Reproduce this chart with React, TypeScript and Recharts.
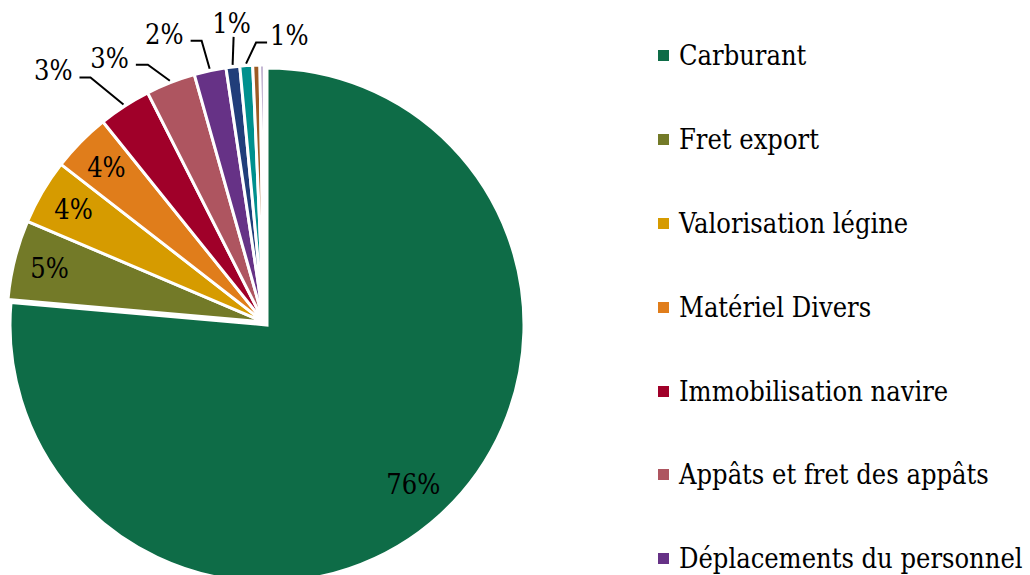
import { PieChart, Pie, Cell, Legend } from 'recharts'

// cost breakdown, shares in % (last four slices fall below the visible legend)
const categories = [
  'Carburant',
  'Fret export',
  'Valorisation légine',
  'Matériel Divers',
  'Immobilisation navire',
  'Appâts et fret des appâts',
  'Déplacements du personnel',
  'Assurances',
  'Frais portuaires',
  'Communication',
  'Divers',
]
const shares = [76.25, 5.0, 4.1, 3.7, 3.3, 3.1, 2.0, 0.86, 0.8, 0.45, 0.25]
const colors = [
  '#0E6C47', '#737A28', '#D69B00', '#E07D1B', '#A00029', '#AE5560',
  '#663286', '#213E7A', '#00908E', '#9C5B23', '#8A70A8',
]
// only the first entries fit in the picture
const visibleLegend = 7

const data = categories.map((name, i) => ({ name, value: shares[i] }))

const FONT = "'DejaVu Serif Condensed', 'DejaVu Serif', serif"
const FS = 27
const RADIUS = 257
const RAD = Math.PI / 180

// leader line tweaks for the small outside labels: elbow offset from the slice edge, horizontal run
const leaders: Record<number, { dx: number; dy: number; run: number }> = {
  4: { dx: -33, dy: -27, run: -11 },
  5: { dx: -22, dy: -16, run: -12 },
  6: { dx: -8, dy: -28, run: -11 },
  7: { dx: 1, dy: -28, run: 0 },
  8: { dx: 10, dy: -21, run: 11 },
}

const renderLabel = (props: any) => {
  const { cx, cy, midAngle, outerRadius, percent, index } = props
  const pct = Math.round(percent * 100)
  if (pct < 1) return null
  const cos = Math.cos(-midAngle * RAD)
  const sin = Math.sin(-midAngle * RAD)
  if (pct >= 4) {
    const r = outerRadius * 0.86
    return (
      <text x={cx + r * cos} y={cy + r * sin} textAnchor="middle" dominantBaseline="central"
        fontFamily={FONT} fontSize={FS} fill="#000">
        {pct}%
      </text>
    )
  }
  const l = leaders[index] || { dx: -20, dy: -20, run: -10 }
  const sx = cx + (outerRadius + 2) * cos
  const sy = cy + (outerRadius + 2) * sin
  const ex = sx + l.dx
  const ey = sy + l.dy
  const hx = ex + l.run
  let tx = hx - 7
  let ty = ey + 3
  let anchor = 'end'
  if (l.run === 0) {
    tx = hx - 2
    ty = ey - 4
    anchor = 'middle'
  } else if (l.run > 0) {
    tx = hx + 3
    ty = ey + 2
    anchor = 'start'
  }
  return (
    <g>
      <polyline points={`${sx},${sy} ${ex},${ey} ${hx},${ey}`} fill="none" stroke="#000" strokeWidth={2} />
      <text x={tx} y={ty} textAnchor={anchor} fontFamily={FONT} fontSize={FS} fill="#000">
        {pct}%
      </text>
    </g>
  )
}

const renderLegend = () => (
  <div style={{ position: 'absolute', left: 658, top: 14, fontFamily: FONT, fontSize: FS, color: '#000' }}>
    {categories.slice(0, visibleLegend).map((c, i) => (
      <div key={c} style={{ height: 83.8, display: 'flex', alignItems: 'center', whiteSpace: 'nowrap' }}>
        <span style={{ display: 'inline-block', width: 11, height: 11, background: colors[i], marginRight: 10 }} />
        <span>{c}</span>
      </div>
    ))}
  </div>
)

export default function App() {
  return (
    <div style={{ position: 'absolute', left: 0, top: 0, width: 1030, height: 575, overflow: 'hidden', background: '#fff' }}>
      <PieChart width={1030} height={575} margin={{ top: 0, right: 0, bottom: 0, left: 0 }}>
        {/* exploded Carburant slice */}
        <Pie
          data={data}
          dataKey="value"
          nameKey="name"
          cx={267}
          cy={325}
          outerRadius={RADIUS}
          startAngle={90}
          endAngle={-270}
          stroke="none"
          isAnimationActive={false}
          legendType="none"
        >
          {data.map((d, i) => (
            <Cell key={d.name} fill={i === 0 ? colors[0] : 'transparent'} stroke={i === 0 ? '#fff' : 'none'} strokeWidth={3} />
          ))}
        </Pie>
        <Pie
          data={data}
          dataKey="value"
          nameKey="name"
          cx={264}
          cy={322}
          outerRadius={RADIUS}
          startAngle={90}
          endAngle={-270}
          labelLine={false}
          label={renderLabel}
          isAnimationActive={false}
        >
          {data.map((d, i) => (
            <Cell key={d.name} fill={i === 0 ? 'transparent' : colors[i]} stroke={i === 0 ? 'none' : '#fff'} strokeWidth={3} />
          ))}
        </Pie>
        <Legend
          layout="vertical"
          align="right"
          verticalAlign="middle"
          content={renderLegend}
          wrapperStyle={{ left: 0, top: 0, right: 'auto', bottom: 'auto' }}
        />
      </PieChart>
    </div>
  )
}
